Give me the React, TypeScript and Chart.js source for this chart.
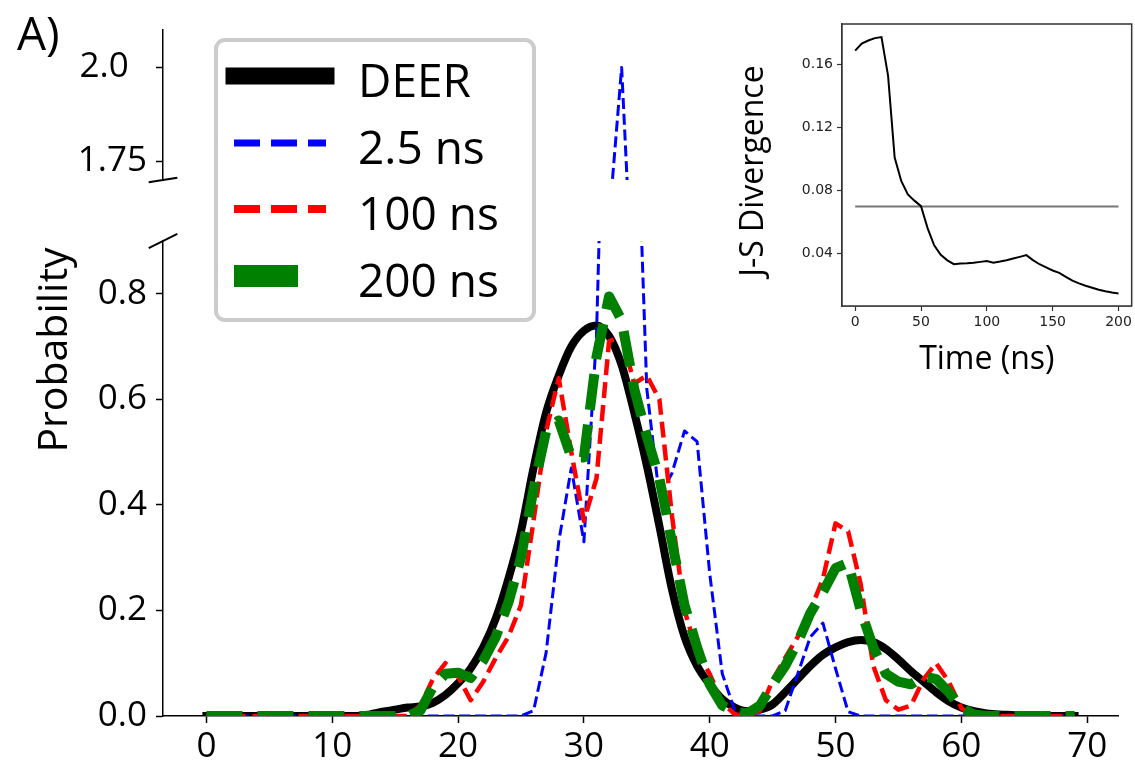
import React, { useEffect, useRef } from "react";
import { Chart, registerables } from "chart.js";

Chart.register(...registerables);

// ---------------- data ----------------
const distance = [
  0, 1, 2, 3, 4, 5, 6, 7, 8, 9, 10, 11, 12, 13, 14, 15, 16, 17, 18, 19, 20, 21, 22, 23, 24,
  25, 26, 27, 28, 29, 30, 31, 32, 33, 34, 35, 36, 37, 38, 39, 40, 41, 42, 43, 44, 45, 46, 47,
  48, 49, 50, 51, 52, 53, 54, 55, 56, 57, 58, 59, 60, 61, 62, 63, 64, 65, 66, 67, 68, 69,
];

const deer = [
  0, 0, 0, 0, 0, 0, 0, 0, 0, 0, 0, 0, 0, 0.003, 0.008, 0.012, 0.016, 0.018, 0.025, 0.04,
  0.062, 0.09, 0.13, 0.185, 0.26, 0.35, 0.47, 0.575, 0.645, 0.7, 0.73, 0.74, 0.72, 0.665,
  0.575, 0.475, 0.36, 0.24, 0.15, 0.095, 0.06, 0.032, 0.016, 0.009, 0.012, 0.022, 0.045,
  0.07, 0.095, 0.116, 0.13, 0.14, 0.144, 0.14, 0.127, 0.107, 0.085, 0.065, 0.045, 0.028,
  0.016, 0.009, 0.005, 0.003, 0.002, 0.001, 0.001, 0, 0, 0,
];

const md2p5 = [
  0, 0, 0, 0, 0, 0, 0, 0, 0, 0, 0, 0, 0, 0, 0, 0, 0, 0, 0, 0, 0, 0, 0, 0, 0,
  0, 0.01, 0.12, 0.33, 0.47, 0.33, 0.72, 1.59, 2.0, 1.31, 0.62, 0.415, 0.46, 0.54, 0.52,
  0.27, 0.08, 0.01, 0.002, 0, 0, 0.01, 0.08, 0.15, 0.176, 0.09, 0.008,
  0, 0, 0, 0, 0, 0, 0, 0, 0, 0, 0, 0, 0, 0, 0, 0, 0, 0,
];

const md100 = [
  0, 0, 0, 0, 0, 0, 0, 0, 0, 0, 0, 0, 0, 0, 0, 0, 0,
  0.02, 0.07, 0.1, 0.075, 0.03, 0.065, 0.11, 0.15, 0.21, 0.37, 0.54, 0.64, 0.5, 0.37, 0.45,
  0.71, 0.72, 0.63, 0.645, 0.6, 0.38, 0.2, 0.12, 0.08, 0.025, 0.003, 0, 0.01, 0.068, 0.11,
  0.15, 0.2, 0.26, 0.365, 0.35, 0.25, 0.095, 0.03, 0.012, 0.02, 0.07, 0.1, 0.065, 0.015,
  0, 0, 0, 0, 0, 0, 0, 0, 0,
];

const md200 = [
  0, 0, 0, 0, 0, 0, 0, 0, 0, 0, 0, 0, 0, 0, 0, 0, 0,
  0.01, 0.055, 0.08, 0.082, 0.072, 0.105, 0.15, 0.215, 0.3, 0.43, 0.54, 0.56, 0.49, 0.49,
  0.68, 0.795, 0.75, 0.62, 0.53, 0.45, 0.33, 0.21, 0.13, 0.06, 0.02, 0.008, 0.005, 0.02,
  0.06, 0.095, 0.14, 0.195, 0.235, 0.28, 0.29, 0.2, 0.13, 0.08, 0.065, 0.06, 0.075, 0.07,
  0.045, 0.015, 0.003,
  0, 0, 0, 0, 0, 0, 0, 0,
];

const seriesLabels = ["DEER", "2.5 ns", "100 ns", "200 ns"];

const xTicks = [0, 10, 20, 30, 40, 50, 60, 70];
const xTickLabels = ["0", "10", "20", "30", "40", "50", "60", "70"];
const yTicksLower = [0, 0.2, 0.4, 0.6, 0.8];
const yTickLabelsLower = ["0.0", "0.2", "0.4", "0.6", "0.8"];
const yTicksUpper = [1.75, 2.0];
const yTickLabelsUpper = ["1.75", "2.0  "];

// inset
const time = [
  0, 5, 10, 15, 20, 25, 30, 35, 40, 45, 50, 55, 60, 65, 70, 75, 80, 85, 90, 95, 100, 105,
  110, 115, 120, 125, 130, 135, 140, 145, 150, 155, 160, 165, 170, 175, 180, 185, 190, 195, 200,
];
const jsd = [
  0.169, 0.1735, 0.1755, 0.177, 0.1777, 0.153, 0.101, 0.086, 0.0775, 0.0735, 0.07, 0.056,
  0.045, 0.039, 0.0355, 0.033, 0.0335, 0.0337, 0.034, 0.0345, 0.035, 0.034, 0.0347, 0.0355,
  0.0366, 0.0377, 0.0388, 0.0356, 0.033, 0.031, 0.029, 0.0275, 0.025, 0.0225, 0.0208,
  0.0193, 0.018, 0.0168, 0.0158, 0.015, 0.0143,
];
const thresholdTime = [0, 200];
const thresholdValue = [0.0697, 0.0697];
const insetXTicks = [0, 50, 100, 150, 200];
const insetXTickLabels = ["0", "50", "100", "150", "200"];
const insetYTicks = [0.04, 0.08, 0.12, 0.16];
const insetYTickLabels = ["0.04", "0.08", "0.12", "0.16"];

// ---------------- helpers ----------------
const toPoints = (xs: number[], ys: number[]) => xs.map((x, i) => ({ x, y: ys[i] }));

const FONT = "'Open Sans', 'Noto Sans', sans-serif";
const W = 1135;
const H = 766;

// main plot area (pixels)
const MAIN_LEFT = 163;
const MAIN_RIGHT = 1118;
const LOWER_TOP = 241;
const LOWER_BOTTOM = 716;
const UPPER_TOP = 20;
const UPPER_BOTTOM = 180;

// inset area
const IN_LEFT = 842;
const IN_RIGHT = 1132;
const IN_TOP = 24;
const IN_BOTTOM = 306;

const styles = [
  { color: "#000000", width: 8, dash: [] as number[], cap: "square", legendWidth: 17, legendDash: [] as number[], smooth: true },
  { color: "#0000ff", width: 3, dash: [11, 4.8], cap: "butt", legendWidth: 7, legendDash: [26, 11], smooth: false },
  { color: "#ff0000", width: 4.5, dash: [16, 7], cap: "butt", legendWidth: 8, legendDash: [26, 11], smooth: false },
  { color: "#008000", width: 10, dash: [36, 15], cap: "butt", legendWidth: 22, legendDash: [64, 40], smooth: false },
];

const seriesValues = [deer, md2p5, md100, md200];

function makeDataset(i: number) {
  const s = styles[i];
  const ds: any = {
    label: seriesLabels[i],
    data: toPoints(distance, seriesValues[i]),
    borderColor: s.color,
    backgroundColor: s.color,
    borderWidth: s.width,
    borderDash: s.dash,
    borderCapStyle: s.cap,
    borderJoinStyle: "round",
    pointRadius: 0,
    tension: 0,
    fill: false,
    clip: 0,
    order: 3 - i,
  };
  if (s.smooth) ds.cubicInterpolationMode = "monotone";
  return ds;
}

const tickGrid = {
  display: true,
  drawOnChartArea: false,
  drawTicks: true,
  tickLength: 7,
  tickWidth: 1.5,
  tickColor: "#000",
};

function breakMarkPlugin(where: "top" | "bottom") {
  return {
    id: "breakMark" + where,
    afterDraw(chart: any) {
      const { ctx, chartArea: a } = chart;
      const d = 0.015;
      const dx = d * (a.right - a.left);
      const dy = d * (a.bottom - a.top);
      const y0 = where === "top" ? a.top : a.bottom;
      ctx.save();
      ctx.strokeStyle = "#000";
      ctx.lineWidth = 2;
      ctx.beginPath();
      ctx.moveTo(a.left - dx, y0 + dy);
      ctx.lineTo(a.left + dx, y0 - dy);
      ctx.stroke();
      ctx.restore();
    },
  };
}

const mainDecor = {
  id: "mainDecor",
  afterDraw(chart: any) {
    const ctx = chart.ctx as CanvasRenderingContext2D;
    ctx.save();
    ctx.fillStyle = "#000";
    // panel letter
    ctx.font = `46px ${FONT}`;
    ctx.textAlign = "left";
    ctx.textBaseline = "alphabetic";
    ctx.fillText("A)", 17, 50);
    // y axis title
    ctx.save();
    ctx.translate(55, 350);
    ctx.rotate(-Math.PI / 2);
    ctx.font = `41px ${FONT}`;
    ctx.textAlign = "center";
    ctx.textBaseline = "middle";
    ctx.fillText("Probability", 0, 0);
    ctx.restore();

    // legend box
    const bx = 216, by = 40, bw = 318, bh = 280;
    ctx.beginPath();
    (ctx as any).roundRect(bx, by, bw, bh, 9);
    ctx.fillStyle = "rgba(255,255,255,0.8)";
    ctx.fill();
    ctx.strokeStyle = "#cccccc";
    ctx.lineWidth = 4;
    ctx.stroke();

    const rowY = [76, 143, 209, 276];
    for (let i = 0; i < 4; i++) {
      const s = styles[i];
      ctx.save();
      ctx.strokeStyle = s.color;
      ctx.lineWidth = s.legendWidth;
      ctx.lineCap = s.cap as CanvasLineCap;
      ctx.setLineDash(s.legendDash);
      ctx.beginPath();
      ctx.moveTo(234, rowY[i]);
      ctx.lineTo(326, rowY[i]);
      ctx.stroke();
      ctx.restore();
      ctx.fillStyle = "#000";
      ctx.font = `46px ${FONT}`;
      ctx.textAlign = "left";
      ctx.textBaseline = "alphabetic";
      ctx.fillText(seriesLabels[i], 358, rowY[i] + 21);
    }
    ctx.restore();
  },
};

const insetDecor = {
  id: "insetDecor",
  beforeDatasetsDraw(chart: any) {
    const { ctx, chartArea: a } = chart;
    ctx.save();
    ctx.fillStyle = "#fff";
    ctx.fillRect(a.left, a.top, a.right - a.left, a.bottom - a.top);
    ctx.restore();
  },
  afterDraw(chart: any) {
    const { ctx, chartArea: a } = chart;
    ctx.save();
    ctx.strokeStyle = "#333";
    ctx.lineWidth = 1.5;
    ctx.strokeRect(a.left, a.top, a.right - a.left, a.bottom - a.top);
    ctx.fillStyle = "#000";
    ctx.font = `32px ${FONT}`;
    ctx.textAlign = "center";
    ctx.textBaseline = "middle";
    ctx.fillText("Time (ns)", (a.left + a.right) / 2, 360);
    ctx.translate(754, (a.top + a.bottom) / 2 + 6);
    ctx.rotate(-Math.PI / 2);
    ctx.fillText("J-S Divergence", 0, 0);
    ctx.restore();
  },
};

export default function App() {
  const lowerRef = useRef<HTMLCanvasElement>(null);
  const upperRef = useRef<HTMLCanvasElement>(null);
  const insetRef = useRef<HTMLCanvasElement>(null);

  useEffect(() => {
    const tickFont = { family: FONT, size: 35 };
    const xMin = -3.45;
    const xMax = 72.45;

    const lower = new Chart(lowerRef.current as HTMLCanvasElement, {
      type: "line",
      data: { datasets: [makeDataset(3), makeDataset(2), makeDataset(1), makeDataset(0)] as any },
      options: {
        responsive: false,
        animation: false,
        events: [],
        layout: {
          autoPadding: false,
          padding: { left: 0, top: LOWER_TOP, right: W - MAIN_RIGHT, bottom: 0 },
        },
        plugins: { legend: { display: false }, tooltip: { enabled: false }, title: { display: false } },
        scales: {
          x: {
            type: "linear",
            min: xMin,
            max: xMax,
            afterFit: (s: any) => { s.height = H - LOWER_BOTTOM; },
            afterBuildTicks: (s: any) => { s.ticks = xTicks.map((v) => ({ value: v })); },
            ticks: {
              font: tickFont,
              color: "#000",
              padding: 3,
              maxRotation: 0,
              minRotation: 0,
              autoSkip: false,
              callback: (_v: any, i: number) => xTickLabels[i],
            },
            grid: tickGrid,
            border: { display: true, color: "#000", width: 1.5 },
          },
          y: {
            type: "linear",
            min: 0,
            max: 0.9,
            afterFit: (s: any) => { s.width = MAIN_LEFT; },
            afterBuildTicks: (s: any) => { s.ticks = yTicksLower.map((v) => ({ value: v })); },
            ticks: {
              font: tickFont,
              color: "#000",
              padding: 9,
              autoSkip: false,
              callback: (_v: any, i: number) => yTickLabelsLower[i],
            },
            grid: tickGrid,
            border: { display: true, color: "#000", width: 1.5 },
          },
        },
      } as any,
      plugins: [breakMarkPlugin("top"), mainDecor],
    });

    const upper = new Chart(upperRef.current as HTMLCanvasElement, {
      type: "line",
      data: { datasets: [makeDataset(1)] as any },
      options: {
        responsive: false,
        animation: false,
        events: [],
        layout: {
          autoPadding: false,
          padding: { left: 0, top: UPPER_TOP, right: W - MAIN_RIGHT, bottom: H - UPPER_BOTTOM },
        },
        plugins: { legend: { display: false }, tooltip: { enabled: false } },
        scales: {
          x: { type: "linear", min: xMin, max: xMax, display: false },
          y: {
            type: "linear",
            min: 1.7,
            max: 2.1,
            afterFit: (s: any) => { s.width = MAIN_LEFT; },
            afterBuildTicks: (s: any) => { s.ticks = yTicksUpper.map((v) => ({ value: v })); },
            ticks: {
              font: tickFont,
              color: "#000",
              padding: 9,
              autoSkip: false,
              callback: (_v: any, i: number) => yTickLabelsUpper[i],
            },
            grid: tickGrid,
            border: { display: true, color: "#000", width: 1.5 },
          },
        },
      } as any,
      plugins: [breakMarkPlugin("bottom")],
    });

    const insetFont = { family: "'DejaVu Sans', sans-serif", size: 14 };
    const insetGrid = {
      display: true,
      drawOnChartArea: false,
      drawTicks: true,
      tickLength: 5,
      tickWidth: 1.2,
      tickColor: "#333",
    };
    const inset = new Chart(insetRef.current as HTMLCanvasElement, {
      type: "line",
      data: {
        datasets: [
          {
            label: "J-S Divergence",
            data: toPoints(time, jsd),
            borderColor: "#000",
            borderWidth: 2,
            pointRadius: 0,
            tension: 0,
            fill: false,
            clip: 0,
            order: 0,
          },
          {
            label: "threshold",
            data: toPoints(thresholdTime, thresholdValue),
            borderColor: "#777777",
            borderWidth: 2,
            pointRadius: 0,
            tension: 0,
            fill: false,
            clip: 0,
            order: 1,
          },
        ] as any,
      },
      options: {
        responsive: false,
        animation: false,
        events: [],
        layout: {
          autoPadding: false,
          padding: { left: 0, top: IN_TOP, right: W - IN_RIGHT, bottom: 0 },
        },
        plugins: { legend: { display: false }, tooltip: { enabled: false } },
        scales: {
          x: {
            type: "linear",
            min: -10,
            max: 210,
            afterFit: (s: any) => { s.height = H - IN_BOTTOM; },
            afterBuildTicks: (s: any) => { s.ticks = insetXTicks.map((v) => ({ value: v })); },
            ticks: {
              font: insetFont,
              color: "#222",
              padding: 3,
              maxRotation: 0,
              minRotation: 0,
              autoSkip: false,
              callback: (_v: any, i: number) => insetXTickLabels[i],
            },
            grid: insetGrid,
            border: { display: true, color: "#333", width: 1.5 },
          },
          y: {
            type: "linear",
            min: 0.0064,
            max: 0.186,
            afterFit: (s: any) => { s.width = IN_LEFT; },
            afterBuildTicks: (s: any) => { s.ticks = insetYTicks.map((v) => ({ value: v })); },
            ticks: {
              font: insetFont,
              color: "#222",
              padding: 4,
              autoSkip: false,
              callback: (_v: any, i: number) => insetYTickLabels[i],
            },
            grid: insetGrid,
            border: { display: true, color: "#333", width: 1.5 },
          },
        },
      } as any,
      plugins: [insetDecor],
    });

    return () => {
      lower.destroy();
      upper.destroy();
      inset.destroy();
    };
  }, []);

  const cs: React.CSSProperties = { position: "absolute", left: 0, top: 0 };
  return (
    <div style={{ position: "absolute", left: 0, top: 0, width: W, height: H, background: "#fff", overflow: "hidden" }}>
      <canvas ref={lowerRef} width={W} height={H} style={cs} />
      <canvas ref={upperRef} width={W} height={H} style={cs} />
      <canvas ref={insetRef} width={W} height={H} style={cs} />
    </div>
  );
}
